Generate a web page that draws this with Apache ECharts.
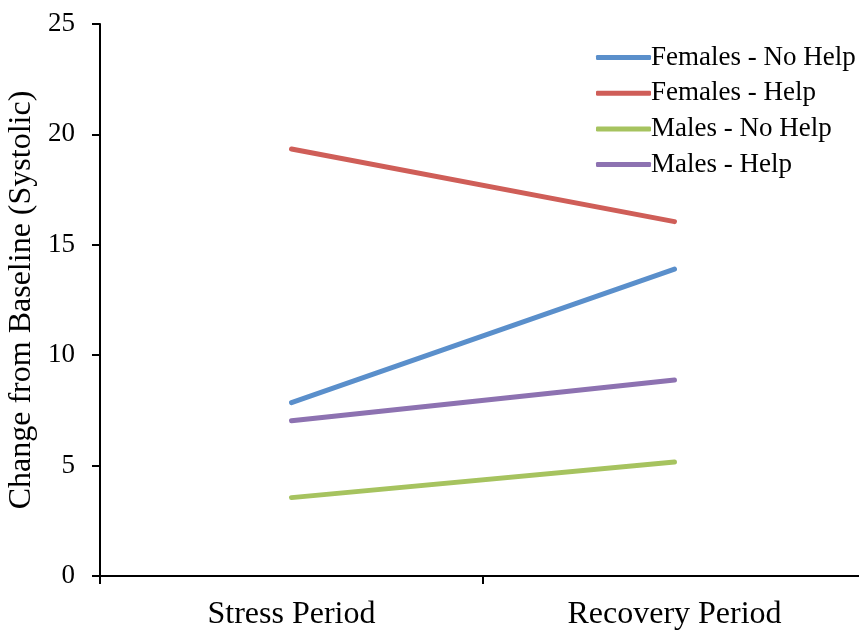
<!DOCTYPE html>
<html>
<head>
<meta charset="utf-8">
<script src="https://cdn.jsdelivr.net/npm/echarts@6/dist/echarts.min.js"></script>
<style>html,body{margin:0;padding:0;background:#fff;}#c{width:859px;height:636px;}</style>
</head>
<body>
<div id="c"></div>
<script>
const categories = ['Stress Period', 'Recovery Period'];
const seriesNames = ['Females - No Help', 'Females - Help', 'Males - No Help', 'Males - Help'];
const femalesNoHelp = [7.85, 13.9];
const femalesHelp = [19.34, 16.05];
const malesNoHelp = [3.55, 5.16];
const malesHelp = [7.03, 8.88];
const colors = ['#5A8FCB', '#CF5E58', '#A6C35F', '#8D72B1'];
const yTicks = [0, 5, 10, 15, 20, 25];

const chart = echarts.init(document.getElementById('c'));
const font = 'Liberation Serif, Times New Roman, serif';
const data = [femalesNoHelp, femalesHelp, malesNoHelp, malesHelp];
chart.setOption({
  animation: false,
  textStyle: { fontFamily: font },
  grid: { left: 100, width: 766, top: 24, height: 552, containLabel: false, outerBoundsMode: 'none' },
  legend: {
    orient: 'vertical', left: 591, top: 39,
    itemWidth: 55, itemHeight: 5, itemGap: 8.7,
    icon: 'roundRect',
    textStyle: { fontFamily: font, fontSize: 27, color: '#000', padding: [0, 0, 0, -5] },
    data: seriesNames
  },
  xAxis: {
    type: 'category', data: categories, boundaryGap: true,
    axisLine: { lineStyle: { color: '#000', width: 2 } },
    axisTick: { show: true, length: 8, lineStyle: { color: '#000', width: 2 } },
    axisLabel: { color: '#000', fontSize: 32, fontFamily: font, margin: 23 }
  },
  yAxis: {
    type: 'value', min: yTicks[0], max: yTicks[yTicks.length - 1], interval: 5,
    name: 'Change from Baseline (Systolic)', nameLocation: 'middle', nameRotate: 90, nameGap: 57,
    nameTextStyle: { color: '#000', fontSize: 32, fontFamily: font },
    splitLine: { show: false },
    axisLine: { show: true, lineStyle: { color: '#000', width: 2 } },
    axisTick: { show: true, length: 8, lineStyle: { color: '#000', width: 2 } },
    axisLabel: { color: '#000', fontSize: 27, fontFamily: font, margin: 25 }
  },
  series: seriesNames.map((n, i) => ({
    name: n, type: 'line', data: data[i], showSymbol: false, symbol: 'none',
    color: colors[i],
    lineStyle: { color: colors[i], width: 5, cap: 'round' }
  }))
});
</script>
</body>
</html>
